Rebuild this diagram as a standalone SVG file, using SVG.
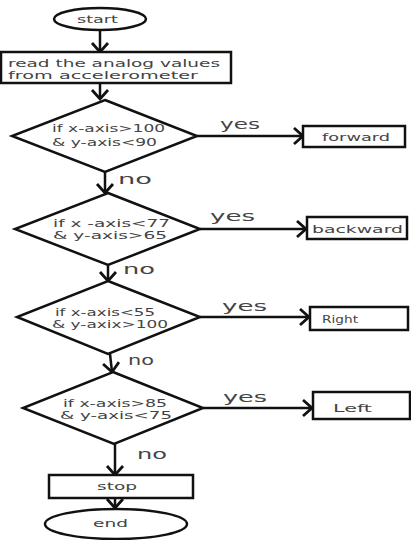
<svg xmlns="http://www.w3.org/2000/svg" width="411" height="540" viewBox="0 0 411 540">
<style>
.shape{fill:#fff;stroke:#111;stroke-width:2.5}
.t{font-family:"DejaVu Sans",sans-serif;font-size:11px;fill:#444}
.lbl{font-family:"DejaVu Sans",sans-serif;font-size:14px;fill:#444}
.conn{stroke:#111;stroke-width:2.5;fill:none}
</style>
<defs>
<marker id="arr" markerUnits="userSpaceOnUse" markerWidth="20" markerHeight="20" viewBox="-10 -10 20 20" refX="0" refY="0" orient="auto">
<path d="M-9,-8 L0,0 L-9,8" fill="none" stroke="#111" stroke-width="2.8"/>
</marker>
</defs>
<rect width="411" height="540" fill="#fff"/>
<g id="connectors">
<line class="conn" x1="100" y1="30" x2="100" y2="52" marker-end="url(#arr)"/>
<line class="conn" x1="100" y1="83" x2="100" y2="99" marker-end="url(#arr)"/>
<line class="conn" x1="197" y1="136" x2="303" y2="136" marker-end="url(#arr)"/>
<line class="conn" x1="105" y1="172" x2="105" y2="193" marker-end="url(#arr)"/>
<line class="conn" x1="200" y1="229" x2="306" y2="229" marker-end="url(#arr)"/>
<line class="conn" x1="108" y1="265" x2="108" y2="281" marker-end="url(#arr)"/>
<line class="conn" x1="200" y1="317" x2="309" y2="317" marker-end="url(#arr)"/>
<line class="conn" x1="110" y1="354" x2="112" y2="372" marker-end="url(#arr)"/>
<line class="conn" x1="203" y1="408" x2="312" y2="408" marker-end="url(#arr)"/>
<line class="conn" x1="115" y1="444" x2="115" y2="475" marker-end="url(#arr)"/>
<line class="conn" x1="115" y1="498" x2="115" y2="508" marker-end="url(#arr)"/>
<text class="lbl" x="220" y="129" textLength="40" lengthAdjust="spacingAndGlyphs">yes</text>
<text class="lbl" x="118" y="184" textLength="34" lengthAdjust="spacingAndGlyphs">no</text>
<text class="lbl" x="210" y="221" textLength="45" lengthAdjust="spacingAndGlyphs">yes</text>
<text class="lbl" x="123" y="274" textLength="32" lengthAdjust="spacingAndGlyphs">no</text>
<text class="lbl" x="222" y="311" textLength="45" lengthAdjust="spacingAndGlyphs">yes</text>
<text class="lbl" x="128" y="365" textLength="26" lengthAdjust="spacingAndGlyphs">no</text>
<text class="lbl" x="223" y="402" textLength="44" lengthAdjust="spacingAndGlyphs">yes</text>
<text class="lbl" x="137" y="459" textLength="30" lengthAdjust="spacingAndGlyphs">no</text>
</g>
<g id="start">
<ellipse class="shape" cx="100" cy="19" rx="46" ry="11"/>
<text class="t" x="77" y="23" textLength="41" lengthAdjust="spacingAndGlyphs">start</text>
</g>
<g id="read">
<rect class="shape" x="1" y="52" width="230" height="31"/>
<text class="t" x="8" y="67" textLength="212" lengthAdjust="spacingAndGlyphs">read the analog values</text>
<text class="t" x="8" y="79" textLength="190" lengthAdjust="spacingAndGlyphs">from accelerometer</text>
</g>
<g id="cond1">
<polygon class="shape" points="105,100 197,136 105,172 12,136"/>
<text class="t" x="52" y="132" textLength="113" lengthAdjust="spacingAndGlyphs">if x-axis&gt;100</text>
<text class="t" x="52" y="146" textLength="105" lengthAdjust="spacingAndGlyphs">&amp; y-axis&lt;90</text>
</g>
<g id="forward">
<rect class="shape" x="303" y="126" width="102" height="21"/>
<text class="t" x="322" y="141" textLength="68" lengthAdjust="spacingAndGlyphs">forward</text>
</g>
<g id="cond2">
<polygon class="shape" points="108,193 200,229 108,265 15,229"/>
<text class="t" x="53" y="227" textLength="117" lengthAdjust="spacingAndGlyphs">if x -axis&lt;77</text>
<text class="t" x="53" y="239" textLength="114" lengthAdjust="spacingAndGlyphs">&amp; y-axis&gt;65</text>
</g>
<g id="backward">
<rect class="shape" x="307" y="217" width="100" height="22"/>
<text class="t" x="312" y="233" textLength="91" lengthAdjust="spacingAndGlyphs">backward</text>
</g>
<g id="cond3">
<polygon class="shape" points="108,281 200,317 108,354 17,317"/>
<text class="t" x="55" y="316" textLength="100" lengthAdjust="spacingAndGlyphs">if x-axis&lt;55</text>
<text class="t" x="52" y="328" textLength="116" lengthAdjust="spacingAndGlyphs">&amp; y-axix&gt;100</text>
</g>
<g id="right">
<rect class="shape" x="310" y="307" width="98" height="23"/>
<text class="t" x="322" y="323" textLength="36" lengthAdjust="spacingAndGlyphs">Right</text>
</g>
<g id="cond4">
<polygon class="shape" points="113,372 203,408 114,444 23,408"/>
<text class="t" x="63" y="407" textLength="104" lengthAdjust="spacingAndGlyphs">if x-axis&gt;85</text>
<text class="t" x="60" y="419" textLength="112" lengthAdjust="spacingAndGlyphs">&amp; y-axis&lt;75</text>
</g>
<g id="left">
<rect class="shape" x="313" y="392" width="97" height="27"/>
<text class="t" x="333" y="412" textLength="39" lengthAdjust="spacingAndGlyphs">Left</text>
</g>
<g id="stop">
<rect class="shape" x="49" y="475" width="144" height="23"/>
<text class="t" x="97" y="490" textLength="40" lengthAdjust="spacingAndGlyphs">stop</text>
</g>
<g id="end">
<ellipse class="shape" cx="116" cy="524" rx="71" ry="15"/>
<text class="t" x="93" y="527" textLength="35" lengthAdjust="spacingAndGlyphs">end</text>
</g>
</svg>
